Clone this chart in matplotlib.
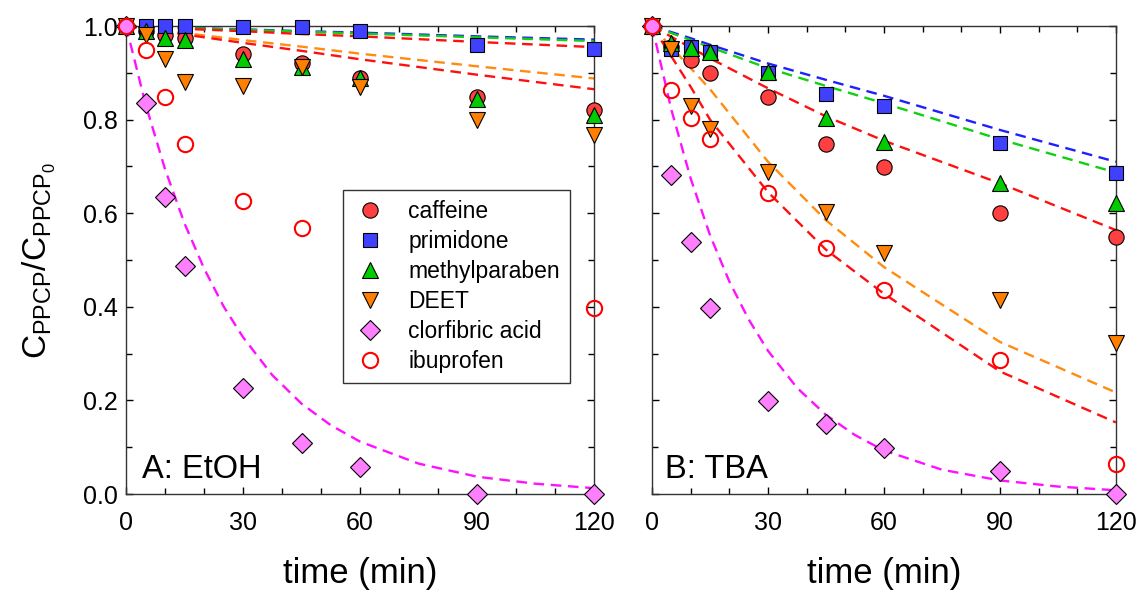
import matplotlib
matplotlib.use("Agg")
import matplotlib.pyplot as plt
from matplotlib.ticker import MultipleLocator

plt.rcParams["font.family"] = ["Liberation Sans", "DejaVu Sans"]
plt.rcParams["mathtext.fontset"] = "custom"
plt.rcParams["mathtext.rm"] = "Liberation Sans"
plt.rcParams["mathtext.it"] = "Liberation Sans"

# sampling times (min)
times = [0, 5, 10, 15, 30, 45, 60, 90, 120]
# denser times for the fast-decaying clofibric acid curves
fit_times_fast = [0, 5, 10, 15, 20, 25, 30, 37.5, 45, 52.5, 60, 75, 90, 105, 120]

# ---- panel A: EtOH, measured C/C0 ----
a_caffeine = [1.0, 0.99, 0.98, 0.975, 0.94, 0.92, 0.89, 0.849, 0.82]
a_primidone = [1.0, 1.0, 1.0, 1.0, 0.998, 0.998, 0.99, 0.96, 0.95]
a_methylparaben = [1.0, 0.99, 0.974, 0.97, 0.93, 0.913, 0.89, 0.845, 0.81]
a_deet = [1.0, 0.98, 0.93, 0.88, 0.872, 0.913, 0.869, 0.80, 0.767]
a_clofibric = [1.0, 0.835, 0.635, 0.487, 0.226, 0.11, 0.058, 0.0, 0.0]
a_ibu_times = [0, 5, 10, 15, 30, 45, 120]
a_ibuprofen = [1.0, 0.949, 0.849, 0.749, 0.626, 0.569, 0.397]

# panel A model curves
a_fit_primidone = [1.0, 0.999, 0.998, 0.996, 0.993, 0.989, 0.986, 0.978, 0.971]
a_fit_methylparaben = [1.0, 0.999, 0.997, 0.996, 0.992, 0.988, 0.984, 0.976, 0.968]
a_fit_ibuprofen = [1.0, 0.998, 0.996, 0.994, 0.989, 0.983, 0.978, 0.966, 0.955]
a_fit_deet = [1.0, 0.995, 0.990, 0.985, 0.970, 0.956, 0.941, 0.914, 0.888]
a_fit_caffeine = [1.0, 0.994, 0.988, 0.982, 0.964, 0.947, 0.929, 0.896, 0.865]
a_fit_clofibric = [1.0, 0.833, 0.694, 0.578, 0.482, 0.401, 0.335, 0.254,
                   0.193, 0.147, 0.112, 0.065, 0.037, 0.022, 0.0125]

# ---- panel B: TBA, measured C/C0 ----
b_caffeine = [1.0, 0.955, 0.927, 0.899, 0.849, 0.749, 0.699, 0.60, 0.549]
b_primidone = [1.0, 0.952, 0.955, 0.945, 0.899, 0.854, 0.829, 0.75, 0.685]
b_methylparaben = [1.0, 0.963, 0.954, 0.945, 0.902, 0.803, 0.753, 0.664, 0.621]
b_deet = [1.0, 0.95, 0.829, 0.781, 0.689, 0.603, 0.514, 0.415, 0.322]
b_clofibric = [1.0, 0.682, 0.538, 0.398, 0.199, 0.149, 0.099, 0.05, 0.0]
b_ibuprofen = [1.0, 0.863, 0.803, 0.758, 0.644, 0.525, 0.437, 0.286, 0.064]

# panel B model curves
b_fit_primidone = [1.0, 0.987, 0.974, 0.96, 0.92, 0.885, 0.851, 0.778, 0.71]
b_fit_methylparaben = [1.0, 0.985, 0.97, 0.955, 0.91, 0.872, 0.835, 0.758, 0.687]
b_fit_caffeine = [1.0, 0.977, 0.954, 0.931, 0.867, 0.807, 0.755, 0.664, 0.564]
b_fit_deet = [1.0, 0.955, 0.91, 0.865, 0.71, 0.585, 0.485, 0.325, 0.217]
b_fit_ibuprofen = [1.0, 0.935, 0.87, 0.80, 0.645, 0.522, 0.428, 0.262, 0.153]
b_fit_clofibric = [1.0, 0.821, 0.674, 0.553, 0.454, 0.373, 0.306, 0.227,
                   0.169, 0.126, 0.093, 0.052, 0.029, 0.016, 0.008]

labels = ["caffeine", "primidone", "methylparaben", "DEET", "clorfibric acid", "ibuprofen"]

RED = "#ff4040"
BLUE = "#4040ff"
GREEN = "#00cc00"
ORANGE = "#ff8000"
PINK = "#ff80ff"

FIT_RED = "#ff1010"
FIT_BLUE = "#1f1fff"
FIT_GREEN = "#10d010"
FIT_ORANGE = "#ff8c10"
FIT_MAGENTA = "#ff10ff"


def style_axes(ax, show_ylabels):
    ax.set_xlim(0, 120)
    ax.set_ylim(0, 1.0)
    ax.xaxis.set_major_locator(MultipleLocator(30))
    ax.xaxis.set_minor_locator(MultipleLocator(10))
    ax.yaxis.set_major_locator(MultipleLocator(0.2))
    ax.yaxis.set_minor_locator(MultipleLocator(0.1))
    ax.tick_params(which="both", direction="in", top=True, right=True,
                   labelsize=18, width=1.0)
    ax.tick_params(which="major", length=5)
    ax.tick_params(which="minor", length=4)
    ax.tick_params(axis="x", which="major", pad=12)
    ax.tick_params(axis="y", which="major", pad=6)
    ax.yaxis.set_major_formatter(plt.FormatStrFormatter("%.1f"))
    if not show_ylabels:
        ax.tick_params(labelleft=False)
    for sp in ax.spines.values():
        sp.set_linewidth(1.0)
        sp.set_color("#333333")
    ax.set_xlabel("time (min)", fontsize=25, labelpad=16)


def draw_panel(ax, fits, fast_fit, data, ibu_t):
    dash = (4.5, 2.8)
    for vals, col in fits:
        ax.plot(times, vals, color=col, lw=1.7, dashes=dash, zorder=2)
    ax.plot(fit_times_fast, fast_fit, color=FIT_MAGENTA, lw=1.7, dashes=dash, zorder=2)

    mk = dict(mec="black", mew=0.8, ls="none", clip_on=False, zorder=3)
    caf, pri, met, dee, clo, ibu = data
    ax.plot(times, caf, "o", ms=11, mfc=RED, label=labels[0], **mk)
    ax.plot(times, pri, "s", ms=10.5, mfc=BLUE, label=labels[1], **mk)
    ax.plot(times, met, "^", ms=11, mfc=GREEN, label=labels[2], **mk)
    ax.plot(times, dee, "v", ms=11, mfc=ORANGE, label=labels[3], **mk)
    ax.plot(times, clo, "D", ms=10, mfc=PINK, label=labels[4], **mk)
    ax.plot(ibu_t, ibu, "o", ms=11, mfc="none", mec="#ff0000", mew=1.5,
            ls="none", clip_on=False, zorder=3, label=labels[5])


fig = plt.figure(figsize=(11.48, 5.92), dpi=100)
ax_a = fig.add_axes([0.1098, 0.1655, 0.4077, 0.7905])
ax_b = fig.add_axes([0.568, 0.1655, 0.404, 0.7905])

draw_panel(
    ax_a,
    [(a_fit_primidone, FIT_BLUE), (a_fit_methylparaben, FIT_GREEN),
     (a_fit_ibuprofen, FIT_RED), (a_fit_deet, FIT_ORANGE),
     (a_fit_caffeine, FIT_RED)],
    a_fit_clofibric,
    [a_caffeine, a_primidone, a_methylparaben, a_deet, a_clofibric, a_ibuprofen],
    a_ibu_times,
)
draw_panel(
    ax_b,
    [(b_fit_primidone, FIT_BLUE), (b_fit_methylparaben, FIT_GREEN),
     (b_fit_caffeine, FIT_RED), (b_fit_deet, FIT_ORANGE),
     (b_fit_ibuprofen, FIT_RED)],
    b_fit_clofibric,
    [b_caffeine, b_primidone, b_methylparaben, b_deet, b_clofibric, b_ibuprofen],
    times,
)

style_axes(ax_a, True)
style_axes(ax_b, False)
ax_a.set_ylabel(r"$\mathregular{C_{PPCP}/C_{PPCP_0}}$", fontsize=24, labelpad=18)

ax_a.text(0.034, 0.035, "A: EtOH", transform=ax_a.transAxes, fontsize=23.5)
ax_b.text(0.028, 0.035, "B: TBA", transform=ax_b.transAxes, fontsize=23.5)

leg = ax_a.legend(loc="upper left", bbox_to_anchor=(0.463, 0.65),
                  borderaxespad=0, fontsize=16.5, frameon=True, fancybox=False,
                  edgecolor="black", handletextpad=0.9, labelspacing=0.3,
                  borderpad=0.45, handlelength=1.5, numpoints=1)
leg.get_frame().set_linewidth(1.0)
leg.set_zorder(5)

fig.savefig("out.png", dpi=100)
